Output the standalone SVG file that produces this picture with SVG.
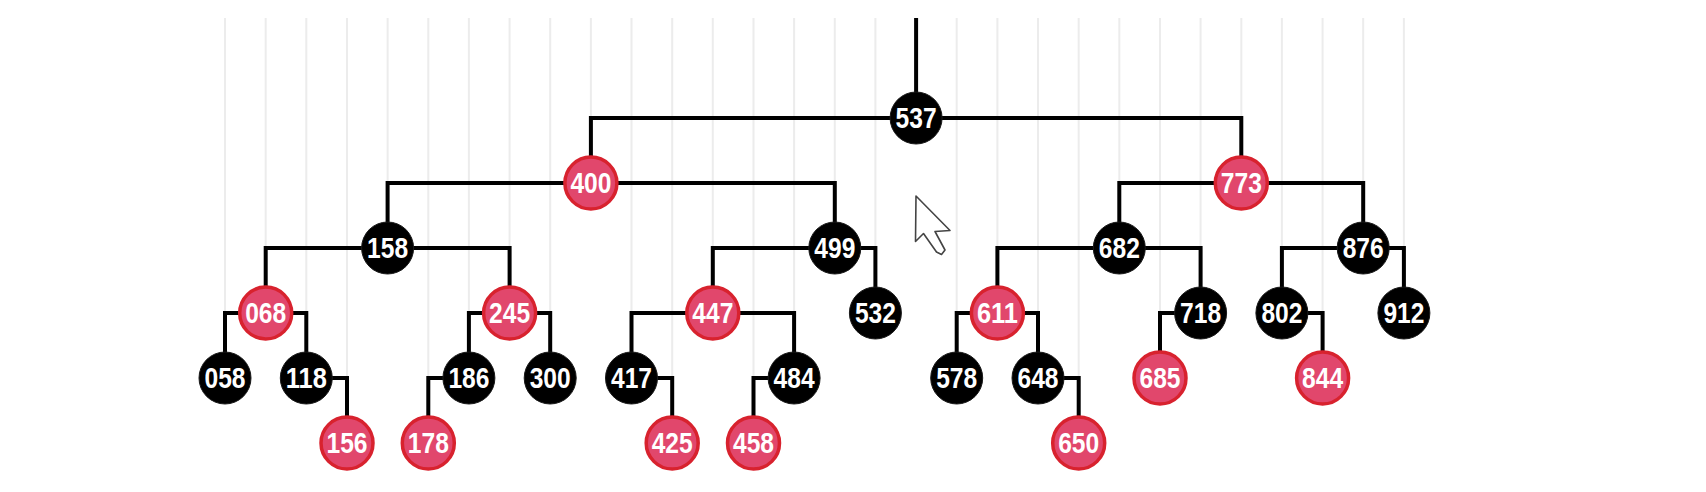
<svg xmlns="http://www.w3.org/2000/svg" width="1706" height="492" viewBox="0 0 1706 492">
<style>
.grid line{stroke:#ececec;stroke-width:2}
.edge{fill:none;stroke:#000;stroke-width:4}
.b circle{fill:#000;stroke:#1a1a1a;stroke-width:1}
.r circle{fill:#e1476c;stroke:#d8222e;stroke-width:3.5}
text{font-family:"Liberation Sans",Arial,sans-serif;font-weight:bold;font-size:29px;fill:#fff;text-anchor:middle}
</style>
<rect width="1706" height="492" fill="#fff"/>
<g class="grid">
<line x1="225" y1="18" x2="225" y2="378"/>
<line x1="265.7" y1="18" x2="265.7" y2="313"/>
<line x1="306.3" y1="18" x2="306.3" y2="378"/>
<line x1="347" y1="18" x2="347" y2="443"/>
<line x1="387.6" y1="18" x2="387.6" y2="248"/>
<line x1="428.3" y1="18" x2="428.3" y2="443"/>
<line x1="468.9" y1="18" x2="468.9" y2="378"/>
<line x1="509.6" y1="18" x2="509.6" y2="313"/>
<line x1="550.2" y1="18" x2="550.2" y2="378"/>
<line x1="590.9" y1="18" x2="590.9" y2="183"/>
<line x1="631.5" y1="18" x2="631.5" y2="378"/>
<line x1="672.2" y1="18" x2="672.2" y2="443"/>
<line x1="712.8" y1="18" x2="712.8" y2="313"/>
<line x1="753.5" y1="18" x2="753.5" y2="443"/>
<line x1="794.1" y1="18" x2="794.1" y2="378"/>
<line x1="834.8" y1="18" x2="834.8" y2="248"/>
<line x1="875.4" y1="18" x2="875.4" y2="313"/>
<line x1="956.7" y1="18" x2="956.7" y2="378"/>
<line x1="997.4" y1="18" x2="997.4" y2="313"/>
<line x1="1038" y1="18" x2="1038" y2="378"/>
<line x1="1078.7" y1="18" x2="1078.7" y2="443"/>
<line x1="1119.3" y1="18" x2="1119.3" y2="248"/>
<line x1="1160" y1="18" x2="1160" y2="378"/>
<line x1="1200.6" y1="18" x2="1200.6" y2="313"/>
<line x1="1241.3" y1="18" x2="1241.3" y2="183"/>
<line x1="1281.9" y1="18" x2="1281.9" y2="313"/>
<line x1="1322.6" y1="18" x2="1322.6" y2="378"/>
<line x1="1363.2" y1="18" x2="1363.2" y2="248"/>
<line x1="1403.9" y1="18" x2="1403.9" y2="313"/>
</g>
<g id="connectors">
<path class="edge" d="M916.1 18V118"/>
<path class="edge" d="M916.1 118H590.9V183"/>
<path class="edge" d="M916.1 118H1241.3V183"/>
<path class="edge" d="M590.9 183H387.6V248"/>
<path class="edge" d="M590.9 183H834.8V248"/>
<path class="edge" d="M387.6 248H265.7V313"/>
<path class="edge" d="M387.6 248H509.6V313"/>
<path class="edge" d="M265.7 313H225V378"/>
<path class="edge" d="M265.7 313H306.3V378"/>
<path class="edge" d="M306.3 378H347V443"/>
<path class="edge" d="M509.6 313H468.9V378"/>
<path class="edge" d="M509.6 313H550.2V378"/>
<path class="edge" d="M468.9 378H428.3V443"/>
<path class="edge" d="M834.8 248H712.8V313"/>
<path class="edge" d="M834.8 248H875.4V313"/>
<path class="edge" d="M712.8 313H631.5V378"/>
<path class="edge" d="M712.8 313H794.1V378"/>
<path class="edge" d="M631.5 378H672.2V443"/>
<path class="edge" d="M794.1 378H753.5V443"/>
<path class="edge" d="M1241.3 183H1119.3V248"/>
<path class="edge" d="M1241.3 183H1363.2V248"/>
<path class="edge" d="M1119.3 248H997.4V313"/>
<path class="edge" d="M1119.3 248H1200.6V313"/>
<path class="edge" d="M997.4 313H956.7V378"/>
<path class="edge" d="M997.4 313H1038V378"/>
<path class="edge" d="M1038 378H1078.7V443"/>
<path class="edge" d="M1200.6 313H1160V378"/>
<path class="edge" d="M1363.2 248H1281.9V313"/>
<path class="edge" d="M1363.2 248H1403.9V313"/>
<path class="edge" d="M1281.9 313H1322.6V378"/>
</g>
<g id="n537" class="b"><circle cx="916.1" cy="118" r="26"/><text x="916.1" y="128" textLength="41" lengthAdjust="spacingAndGlyphs">537</text></g>
<g id="n400" class="r"><circle cx="590.9" cy="183" r="26"/><text x="590.9" y="193" textLength="41" lengthAdjust="spacingAndGlyphs">400</text></g>
<g id="n773" class="r"><circle cx="1241.3" cy="183" r="26"/><text x="1241.3" y="193" textLength="41" lengthAdjust="spacingAndGlyphs">773</text></g>
<g id="n158" class="b"><circle cx="387.6" cy="248" r="26"/><text x="387.6" y="258" textLength="41" lengthAdjust="spacingAndGlyphs">158</text></g>
<g id="n499" class="b"><circle cx="834.8" cy="248" r="26"/><text x="834.8" y="258" textLength="41" lengthAdjust="spacingAndGlyphs">499</text></g>
<g id="n682" class="b"><circle cx="1119.3" cy="248" r="26"/><text x="1119.3" y="258" textLength="41" lengthAdjust="spacingAndGlyphs">682</text></g>
<g id="n876" class="b"><circle cx="1363.2" cy="248" r="26"/><text x="1363.2" y="258" textLength="41" lengthAdjust="spacingAndGlyphs">876</text></g>
<g id="n068" class="r"><circle cx="265.7" cy="313" r="26"/><text x="265.7" y="323" textLength="41" lengthAdjust="spacingAndGlyphs">068</text></g>
<g id="n245" class="r"><circle cx="509.6" cy="313" r="26"/><text x="509.6" y="323" textLength="41" lengthAdjust="spacingAndGlyphs">245</text></g>
<g id="n447" class="r"><circle cx="712.8" cy="313" r="26"/><text x="712.8" y="323" textLength="41" lengthAdjust="spacingAndGlyphs">447</text></g>
<g id="n532" class="b"><circle cx="875.4" cy="313" r="26"/><text x="875.4" y="323" textLength="41" lengthAdjust="spacingAndGlyphs">532</text></g>
<g id="n611" class="r"><circle cx="997.4" cy="313" r="26"/><text x="997.4" y="323" textLength="41" lengthAdjust="spacingAndGlyphs">611</text></g>
<g id="n718" class="b"><circle cx="1200.6" cy="313" r="26"/><text x="1200.6" y="323" textLength="41" lengthAdjust="spacingAndGlyphs">718</text></g>
<g id="n802" class="b"><circle cx="1281.9" cy="313" r="26"/><text x="1281.9" y="323" textLength="41" lengthAdjust="spacingAndGlyphs">802</text></g>
<g id="n912" class="b"><circle cx="1403.9" cy="313" r="26"/><text x="1403.9" y="323" textLength="41" lengthAdjust="spacingAndGlyphs">912</text></g>
<g id="n058" class="b"><circle cx="225" cy="378" r="26"/><text x="225" y="388" textLength="41" lengthAdjust="spacingAndGlyphs">058</text></g>
<g id="n118" class="b"><circle cx="306.3" cy="378" r="26"/><text x="306.3" y="388" textLength="41" lengthAdjust="spacingAndGlyphs">118</text></g>
<g id="n186" class="b"><circle cx="468.9" cy="378" r="26"/><text x="468.9" y="388" textLength="41" lengthAdjust="spacingAndGlyphs">186</text></g>
<g id="n300" class="b"><circle cx="550.2" cy="378" r="26"/><text x="550.2" y="388" textLength="41" lengthAdjust="spacingAndGlyphs">300</text></g>
<g id="n417" class="b"><circle cx="631.5" cy="378" r="26"/><text x="631.5" y="388" textLength="41" lengthAdjust="spacingAndGlyphs">417</text></g>
<g id="n484" class="b"><circle cx="794.1" cy="378" r="26"/><text x="794.1" y="388" textLength="41" lengthAdjust="spacingAndGlyphs">484</text></g>
<g id="n578" class="b"><circle cx="956.7" cy="378" r="26"/><text x="956.7" y="388" textLength="41" lengthAdjust="spacingAndGlyphs">578</text></g>
<g id="n648" class="b"><circle cx="1038" cy="378" r="26"/><text x="1038" y="388" textLength="41" lengthAdjust="spacingAndGlyphs">648</text></g>
<g id="n685" class="r"><circle cx="1160" cy="378" r="26"/><text x="1160" y="388" textLength="41" lengthAdjust="spacingAndGlyphs">685</text></g>
<g id="n844" class="r"><circle cx="1322.6" cy="378" r="26"/><text x="1322.6" y="388" textLength="41" lengthAdjust="spacingAndGlyphs">844</text></g>
<g id="n156" class="r"><circle cx="347" cy="443" r="26"/><text x="347" y="453" textLength="41" lengthAdjust="spacingAndGlyphs">156</text></g>
<g id="n178" class="r"><circle cx="428.3" cy="443" r="26"/><text x="428.3" y="453" textLength="41" lengthAdjust="spacingAndGlyphs">178</text></g>
<g id="n425" class="r"><circle cx="672.2" cy="443" r="26"/><text x="672.2" y="453" textLength="41" lengthAdjust="spacingAndGlyphs">425</text></g>
<g id="n458" class="r"><circle cx="753.5" cy="443" r="26"/><text x="753.5" y="453" textLength="41" lengthAdjust="spacingAndGlyphs">458</text></g>
<g id="n650" class="r"><circle cx="1078.7" cy="443" r="26"/><text x="1078.7" y="453" textLength="41" lengthAdjust="spacingAndGlyphs">650</text></g>
<polygon points="916,196 915.5,241.5 923.5,233.5 936.5,252 941.5,254.5 945,250 935,231.5 950,230.5" fill="#fff" stroke="#444" stroke-width="1.6" stroke-linejoin="round"/>
</svg>
